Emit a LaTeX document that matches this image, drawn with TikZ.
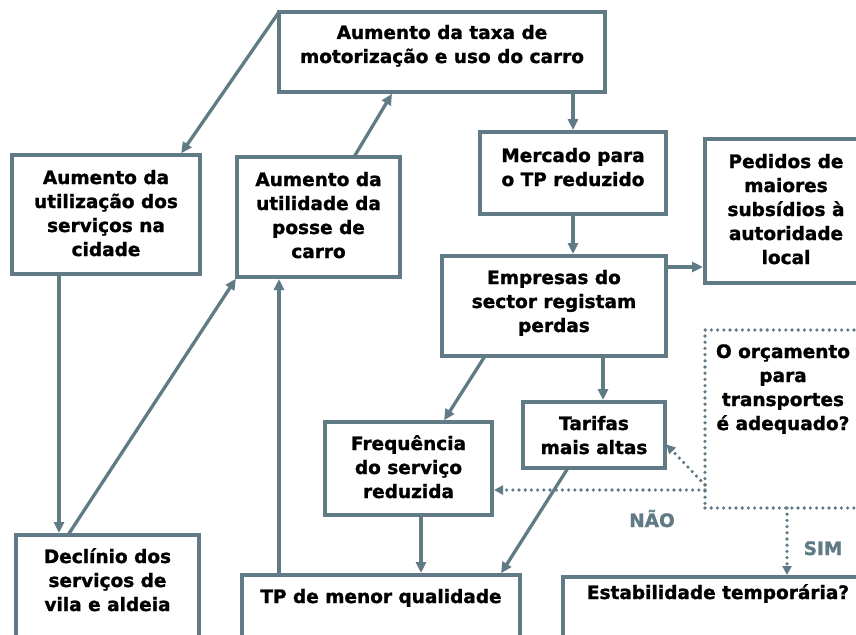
\documentclass[tikz,border=0pt]{standalone}
\usepackage{fontspec}
\setmainfont{DejaVu Sans}[BoldFeatures={FakeBold=1.3}]
\usetikzlibrary{positioning,arrows.meta}
\definecolor{slate}{RGB}{96,122,134}

\begin{document}
\begin{tikzpicture}[x=1pt, y=-1pt,
    block/.style={rectangle, draw=slate, line width=3.3pt, inner sep=0pt, outer sep=0pt, align=center, text=black, font=\bfseries\fontsize{18.5}{24}\selectfont},
    query/.style={block, line width=3.6pt, dash pattern=on 0pt off 6.2pt, line cap=round},
    flow/.style={draw=slate, line width=3.3pt, shorten >=2pt, -{Triangle[length=11pt,width=10pt]}},
    dotflow/.style={flow, line width=3.6pt, dash pattern=on 0pt off 6.2pt, line cap=round, -{Triangle[length=9pt,width=9pt]}},
    answer/.style={anchor=base, text=slate, font=\bfseries\fontsize{18.5}{22}\selectfont}]
    \clip (0,0) rectangle (856,634);

    % Main components
    \node[block, minimum width=326pt, text height=51pt, text depth=29pt, anchor=north west] (taxa) at (279,12) {Aumento da taxa de\\motorização e uso do carro};
    \node[block, minimum width=188pt, text height=101pt, text depth=18pt, anchor=north west] (utilizacao) at (12,155) {Aumento da\\utilização dos\\serviços na\\cidade};
    \node[block, minimum width=163pt, text height=101pt, text depth=19pt, below right=2pt and 37pt of utilizacao.north east] (posse) {Aumento da\\utilidade da\\posse de\\carro};
    \node[block, minimum width=186pt, text height=54pt, text depth=28pt, below right=40pt and 201pt of taxa.south west] (mercado) {Mercado para\\o TP reduzido};
    \node[block, minimum width=162pt, text height=125pt, text depth=19pt, below right=7pt and 39pt of mercado.north east] (pedidos) {Pedidos de\\maiores\\subsídios à\\autoridade\\local};
    \node[block, minimum width=224pt, text height=76pt, text depth=24pt, below right=42pt and -38pt of mercado.south west] (empresas) {Empresas do\\sector registam\\perdas};
    \node[block, minimum width=142pt, text height=52pt, text depth=14pt, below right=46pt and 81pt of empresas.south west] (tarifas) {Tarifas\\mais altas};
    \node[block, minimum width=167pt, text height=76pt, text depth=17pt, below left=20pt and 31pt of tarifas.north west] (frequencia) {Frequência\\do serviço\\reduzida};
    \node[query, minimum width=156pt, text height=100pt, text depth=78pt, below right=47pt and 0pt of pedidos.south west] (orcamento) {O orçamento\\para\\transportes\\é adequado?};

    % Bottom row
    \node[block, minimum width=183pt, text height=76pt, text depth=60pt, below right=261pt and 4pt of utilizacao.south west] (declinio) {Declínio dos\\serviços de\\vila e aldeia};
    \node[block, minimum width=278pt, text height=28pt, text depth=60pt, below right=40pt and 43pt of declinio.north east] (qualidade) {TP de menor qualidade};
    \node[block, minimum width=310pt, text height=22pt, text depth=61pt, below right=2pt and 43pt of qualidade.north east] (estabilidade) {Estabilidade temporária?};

    % Data flow
    \draw[flow] (taxa.north west) -- ([xshift=-20pt]utilizacao.north east);
    \draw[flow] ([xshift=-46pt]posse.north east) -- ([xshift=114pt]taxa.south west);
    \draw[flow] (mercado.north |- taxa.south) -- (mercado.north);
    \draw[flow] (mercado.south) -- (mercado.south |- empresas.north);
    \coordinate (perdas) at ([yshift=-11pt]empresas.north east);
    \draw[flow] (perdas) -- (perdas -| pedidos.west);
    \draw[flow] ([xshift=43pt]empresas.south west) -- ([xshift=118pt]frequencia.north west);
    \draw[flow] ([xshift=161pt]empresas.south west) -- ([xshift=80pt]tarifas.north west);
    \draw[flow] ([xshift=45pt]tarifas.south west) -- ([xshift=-20pt]qualidade.north east);
    \draw[flow] ([xshift=96pt]frequencia.south west) -- ([xshift=179pt]qualidade.north west);
    \draw[flow] ([xshift=37pt]qualidade.north west) -- ([xshift=42pt]posse.south west);
    \draw[flow] ([xshift=52pt]declinio.north west) -- (posse.south west);
    \draw[flow] ([xshift=47pt]utilizacao.south west) -- ([xshift=43pt]declinio.north west);

    % Budget question
    \coordinate (nao) at ([yshift=-160pt]orcamento.north west);
    \coordinate (sim) at ([xshift=82pt]orcamento.south west);
    \draw[dotflow] (nao) -- (nao -| frequencia.east);
    \draw[dotflow] ([yshift=5pt]nao) -- ([yshift=-41pt]tarifas.north east);
    \draw[dotflow] (sim) -- (sim |- estabilidade.north);
    \node[answer] (naolabel) at (652,527) {NÃO};
    \node[answer] (simlabel) at (823,555) {SIM};
\end{tikzpicture}
\end{document}
